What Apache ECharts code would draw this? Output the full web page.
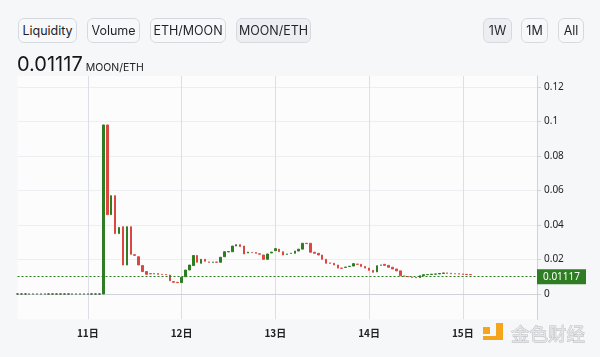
<!DOCTYPE html>
<html>
<head>
<meta charset="utf-8">
<script src="https://cdn.jsdelivr.net/npm/echarts@6/dist/echarts.min.js"></script>
<style>
  html, body { margin: 0; padding: 0; background: #f6f7f9; }
  #wrap { position: relative; width: 600px; height: 357px; overflow: hidden; font-family: Inter, "Noto Sans", sans-serif; }
  #chart { position: absolute; left: 0; top: 0; width: 600px; height: 357px; }
  .btn { position: absolute; top: 18px; height: 25px; box-sizing: border-box; border: 1px solid #d6dae0; border-radius: 6px;
         background: #f7f8fa; color: #1f2328; font-size: 12.5px; line-height: 23px; text-align: center; }
  .btn.on { background: #eceef2; }
  #price { position: absolute; left: 17px; top: 52px; font-size: 20px; color: #14171a; white-space: nowrap; }
  #price span { font-size: 10.5px; color: #222; margin-left: 3px; }
</style>
</head>
<body>
<div id="wrap">
  <div id="chart"></div>
  <div class="btn" style="left:18px;width:59px;">Liquidity</div>
  <div class="btn" style="left:87px;width:53px;">Volume</div>
  <div class="btn" style="left:150px;width:76px;">ETH/MOON</div>
  <div class="btn on" style="left:236px;width:75px;">MOON/ETH</div>
  <div class="btn on" style="left:483px;width:29px;">1W</div>
  <div class="btn" style="left:521px;width:27px;">1M</div>
  <div class="btn" style="left:558px;width:26px;">All</div>
  <div id="price">0.01117<span>MOON/ETH</span></div>
</div>
<script>
// ---- data ----
const startDay = 10;      // first category: 10日 06:00, hourly candles
const startHour = 6;
const hourCount = 134;
const dayTickLabels = ['11日', '12日', '13日', '14日', '15日'];
const yTickLabels = ['0', '0.02', '0.04', '0.06', '0.08', '0.1', '0.12'];
const currentPrice = 0.01117;
const pairLabel = 'MOON/ETH';

const opens = [
  0, 0, 0, 0, 0, 0, 0, 0, 0, 0, 0, 0, 0, 0, 0, 0, 0, 0, 0, 0, 0, 0,
  0, 0.098, 0.046, 0.057, 0.035, 0.039, 0.0168, 0.039, 0.0228, 0.0216,
  0.0165, 0.013, 0.0118, 0.0117, 0.0118, 0.0114, 0.0113, 0.011, 0.0072, 0.0068,
  0.0066, 0.010, 0.0139, 0.0165, 0.0223, 0.0178, 0.0201, 0.0186, 0.0184, 0.0185,
  0.0184, 0.0216, 0.0244, 0.0245, 0.0278, 0.0286, 0.0278, 0.0238, 0.0241, 0.024,
  0.0233, 0.0226, 0.0201, 0.0238, 0.0251, 0.026, 0.0245, 0.023, 0.0235, 0.0236,
  0.0249, 0.026, 0.0294, 0.0294, 0.0242, 0.0236, 0.0226, 0.0201, 0.018, 0.0178,
  0.0168, 0.015, 0.0154, 0.0159, 0.0162, 0.0173, 0.0172, 0.016, 0.015, 0.0137,
  0.0128, 0.0167, 0.0172, 0.0166, 0.0155, 0.0145, 0.0134, 0.0105, 0.0101, 0.0098,
  0.0096, 0.0095, 0.0106, 0.0112, 0.0113, 0.0115, 0.0116, 0.0119, 0.0122, 0.012,
  0.0118, 0.0117, 0.0116, 0.0114, 0.0113
];
const closes = [
  0, 0, 0, 0, 0, 0, 0, 0, 0, 0, 0, 0, 0, 0, 0, 0, 0, 0, 0, 0, 0, 0,
  0.098, 0.046, 0.057, 0.035, 0.0386, 0.0168, 0.039, 0.023, 0.0224, 0.0168,
  0.013, 0.0114, 0.0117, 0.0118, 0.0114, 0.0113, 0.0112, 0.0077, 0.0068, 0.0066,
  0.0097, 0.0139, 0.0168, 0.0223, 0.0184, 0.0201, 0.019, 0.0184, 0.0185, 0.0184,
  0.0213, 0.0245, 0.0246, 0.0278, 0.0286, 0.0275, 0.0232, 0.0243, 0.024, 0.0236,
  0.0231, 0.0201, 0.0232, 0.0243, 0.0263, 0.0245, 0.0226, 0.0232, 0.0236, 0.0249,
  0.026, 0.0294, 0.0292, 0.0242, 0.0236, 0.0226, 0.0201, 0.0178, 0.0178, 0.0168,
  0.015, 0.0149, 0.0156, 0.0161, 0.0176, 0.0172, 0.016, 0.015, 0.0137, 0.0126,
  0.0164, 0.0168, 0.0166, 0.0155, 0.0145, 0.0134, 0.0106, 0.0103, 0.0099, 0.0096,
  0.0094, 0.0106, 0.0112, 0.0113, 0.0115, 0.0116, 0.0119, 0.0122, 0.012, 0.0118,
  0.0117, 0.0116, 0.0114, 0.0113, 0.01117
];

// ---- build categories & candles ----
const categories = [];
for (let i = 0; i < hourCount; i++) {
  const h = startHour + i;
  const d = startDay + Math.floor(h / 24);
  const hh = h % 24;
  categories.push(d + '日 ' + (hh < 10 ? '0' : '') + hh + ':00');
}
const candles = categories.map((c, i) => {
  if (i >= opens.length) return '-';
  const o = opens[i], cl = closes[i];
  return [o, cl, Math.min(o, cl), Math.max(o, cl)];
});
const isDayStart = (idx, val) => dayTickLabels.indexOf(String(val).split(' ')[0]) >= 0 && String(val).endsWith(' 00:00');

const GREEN = '#2e7d22';
const RED = '#dc4741';
const AXIS = '#cfd3d8';
const LOGO = '#f4a51c';

const chart = echarts.init(document.getElementById('chart'), null, { renderer: 'canvas' });
chart.setOption({
  backgroundColor: 'transparent',
  animation: false,
  grid: { left: 17.5, right: 63, top: 76, bottom: 37.7, show: true, backgroundColor: '#fcfcfd', borderWidth: 0 },
  xAxis: {
    type: 'category',
    data: categories,
    boundaryGap: false,
    axisLine: { show: true, lineStyle: { color: AXIS } },
    axisTick: { show: false },
    axisLabel: {
      interval: isDayStart,
      formatter: v => v.split(' ')[0],
      color: '#222', fontSize: 10, fontWeight: 'bold', margin: 9,
      fontFamily: '"Noto Sans CJK SC", "Noto Sans", sans-serif'
    },
    splitLine: { show: true, interval: isDayStart, lineStyle: { color: '#dcdfe3', width: 1 } }
  },
  yAxis: {
    type: 'value',
    position: 'right',
    min: -0.01467,
    max: 0.12638,
    minInterval: 0.02,
    maxInterval: 0.02,
    splitNumber: 7,
    axisLine: { show: true, lineStyle: { color: AXIS } },
    axisTick: { show: true, length: 4, lineStyle: { color: AXIS } },
    axisLabel: {
      showMinLabel: false, showMaxLabel: false,
      color: '#222', fontSize: 10, margin: 7,
      fontFamily: '"Noto Sans", sans-serif',
      formatter: v => {
        const k = Math.round(v / 0.02);
        if (Math.abs(v - k * 0.02) > 1e-6 || k < 0 || k >= yTickLabels.length) return '';
        return yTickLabels[k];
      }
    },
    splitLine: { show: true, showMinLine: false, showMaxLine: false, lineStyle: { color: '#eceef1' } }
  },
  series: [{
    type: 'candlestick',
    data: candles,
    barWidth: 2,
    itemStyle: {
      color: GREEN, borderColor: GREEN,
      color0: RED, borderColor0: RED,
      borderColorDoji: '#2d4a26',
      borderWidth: 1
    },
    markLine: {
      silent: true,
      symbol: ['none', 'none'],
      data: [{ yAxis: currentPrice }],
      lineStyle: { color: '#2e7d22', type: [2, 2], width: 1 },
      label: {
        show: true, position: 'end', distance: 0,
        formatter: () => String(currentPrice),
        color: '#fff', backgroundColor: '#2e7d22',
        fontSize: 10, fontFamily: '"Noto Sans", sans-serif',
        padding: [3, 6, 2, 6], borderRadius: 0
      }
    }
  }],
  graphic: [
    { type: 'rect', shape: { x: 483, y: 327, width: 7, height: 7 }, style: { fill: LOGO } },
    { type: 'rect', shape: { x: 496, y: 323, width: 7, height: 17 }, style: { fill: LOGO } },
    { type: 'rect', shape: { x: 483, y: 336, width: 20, height: 4 }, style: { fill: LOGO } },
    { type: 'text', x: 511, y: 325,
      style: { text: '金色财经', fill: '#e4e5e7', stroke: '#b9bcc0', lineWidth: 0.8,
               font: '18.5px "Noto Sans CJK SC"' } }
  ]
});
</script>
</body>
</html>
